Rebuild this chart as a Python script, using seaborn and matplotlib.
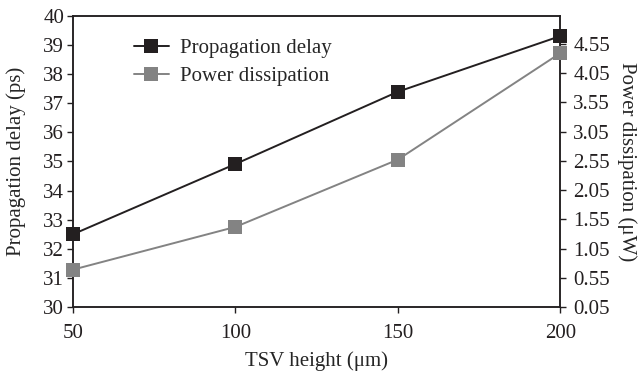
import pandas as pd
import numpy as np
import matplotlib.pyplot as plt
import seaborn as sns

# Values
tsv_height = [50, 100, 150, 200]
prop_delay = [32.50, 34.91, 37.39, 39.30]   # ps, left axis
power_diss = [0.69, 1.42, 2.57, 4.39]       # uW, right axis

left_ticks = list(range(30, 41))
right_ticks = [0.05, 0.55, 1.05, 1.55, 2.05, 2.55, 3.05, 3.55, 4.05, 4.55]
x_ticks = [50, 100, 150, 200]

df = pd.DataFrame({'height': tsv_height, 'delay': prop_delay, 'power': power_diss})

sns.set_style("ticks")
plt.rcParams['font.family'] = ['Liberation Serif', 'DejaVu Serif']
fs = 15

fig = plt.figure(figsize=(6.41, 3.74), dpi=100)
ax = fig.add_axes([0.114, 0.179, 0.760, 0.779])
ax2 = ax.twinx()

black = '#231f20'
gray = '#838383'

sns.lineplot(data=df, x='height', y='delay', ax=ax, color=black, marker='s',
             markersize=9.5, markeredgewidth=0, linewidth=1.4, clip_on=False, zorder=5,
             label='Propagation delay', legend=False)
sns.lineplot(data=df, x='height', y='power', ax=ax2, color=gray, marker='s',
             markersize=9.5, markeredgewidth=0, linewidth=1.4, clip_on=False, zorder=5,
             label='Power dissipation', legend=False)

ax.set_xlim(50, 200)
ax.set_ylim(30, 40)
ax2.set_ylim(0.05, 5.03)
ax.set_xticks(x_ticks)
ax.set_yticks(left_ticks)
ax2.set_yticks(right_ticks)
ax2.set_yticklabels([f'{t:.2f}' for t in right_ticks])

for a in (ax, ax2):
    a.tick_params(labelsize=fs, length=4.5, width=1, colors=black, pad=2)
    for s in a.spines.values():
        s.set_linewidth(1.1)
        s.set_color(black)
ax.tick_params(axis='x', pad=8)
ax2.tick_params(axis='y', pad=5)

ax.set_xlabel('TSV height (μm)', fontsize=fs, labelpad=6)
ax.set_ylabel('Propagation delay (ps)', fontsize=fs, labelpad=12)
ax2.set_ylabel('Power dissipation (μW)', fontsize=fs, rotation=270, labelpad=19)

h1, l1 = ax.get_legend_handles_labels()
h2, l2 = ax2.get_legend_handles_labels()
ax.legend(h1 + h2, l1 + l2, loc='upper left', bbox_to_anchor=(0.086, 0.985), frameon=False,
          fontsize=fs, handlelength=1.7, handletextpad=0.5, labelspacing=0.4)

fig.savefig('out.png', dpi=100)
